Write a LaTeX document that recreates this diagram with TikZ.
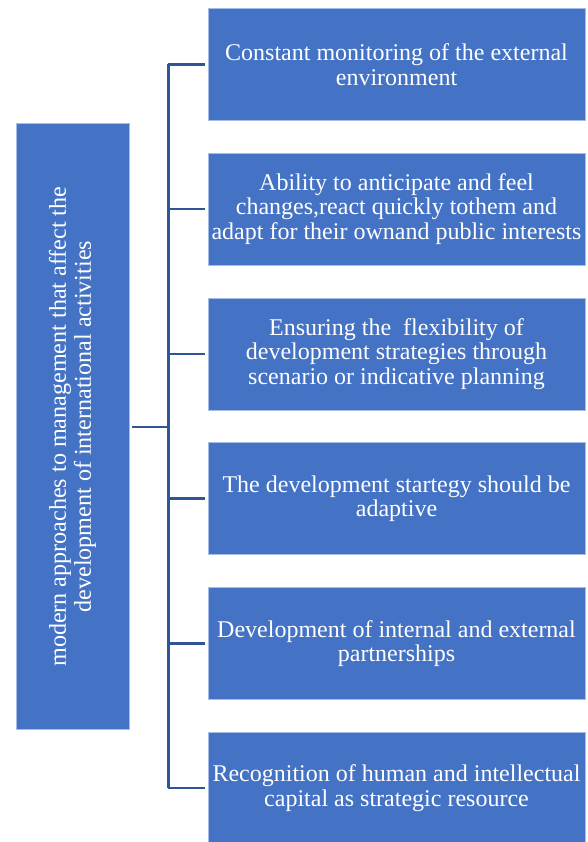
\documentclass[tikz,border=0pt]{standalone}
\usepackage{fontspec}
\setmainfont{Liberation Serif}
\usepackage{xcolor}
\usetikzlibrary{positioning}
\definecolor{boxblue}{HTML}{4472C4}
\definecolor{rimblue}{HTML}{A4BCE6}
\definecolor{linkblue}{HTML}{2F5597}
\tikzset{
    itembox/.style={draw=rimblue, line width=0.8pt, fill=boxblue, text=white,
        minimum width=377pt, minimum height=112pt,
        align=center, inner sep=0pt, font=\fontsize{24}{24.5}\selectfont},
    mainbox/.style={draw=rimblue, line width=0.8pt, fill=boxblue, text=white,
        rotate=90, minimum width=606pt, minimum height=113pt,
        align=center, inner sep=0pt, font=\fontsize{24.1}{25}\selectfont},
    link/.style={draw=linkblue, line width=2.4pt}
}

\begin{document}
\begin{tikzpicture}[x=1pt, y=-1pt]
    \useasboundingbox (0, 0) rectangle (587, 842);
    \node[mainbox] (main) at (72.5, 426.7) {modern approaches to management that affect the\\development of international activities};
    \node[itembox] (b1) at (396.5, 64.5) {Constant monitoring of the external\\environment};
    \node[itembox] (b2) at (396.5, 209) {Ability to anticipate and feel\\changes,react quickly tothem and\\adapt for their ownand public interests};
    \node[itembox] (b3) at (396.5, 354) {Ensuring the\ \ flexibility of\\development strategies through\\scenario or indicative planning};
    \node[itembox] (b4) at (396.5, 498.5) {The development startegy should be\\adaptive};
    \node[itembox] (b5) at (396.5, 643.5) {Development of internal and external\\partnerships};
    \node[itembox] (b6) at (396.5, 788) {Recognition of human and intellectual\\capital as strategic resource};
    \coordinate (split) at (168.3, 426.7);
    % trunk and branches
    \draw[link, shorten <=2.5pt] (main.south) -- (split);
    \draw[link] (split |- b1) -- (split |- b6);
    \foreach \i in {1,...,6}
        \draw[link, shorten >=3pt] (split |- b\i) -- (b\i.west);
\end{tikzpicture}
\end{document}
